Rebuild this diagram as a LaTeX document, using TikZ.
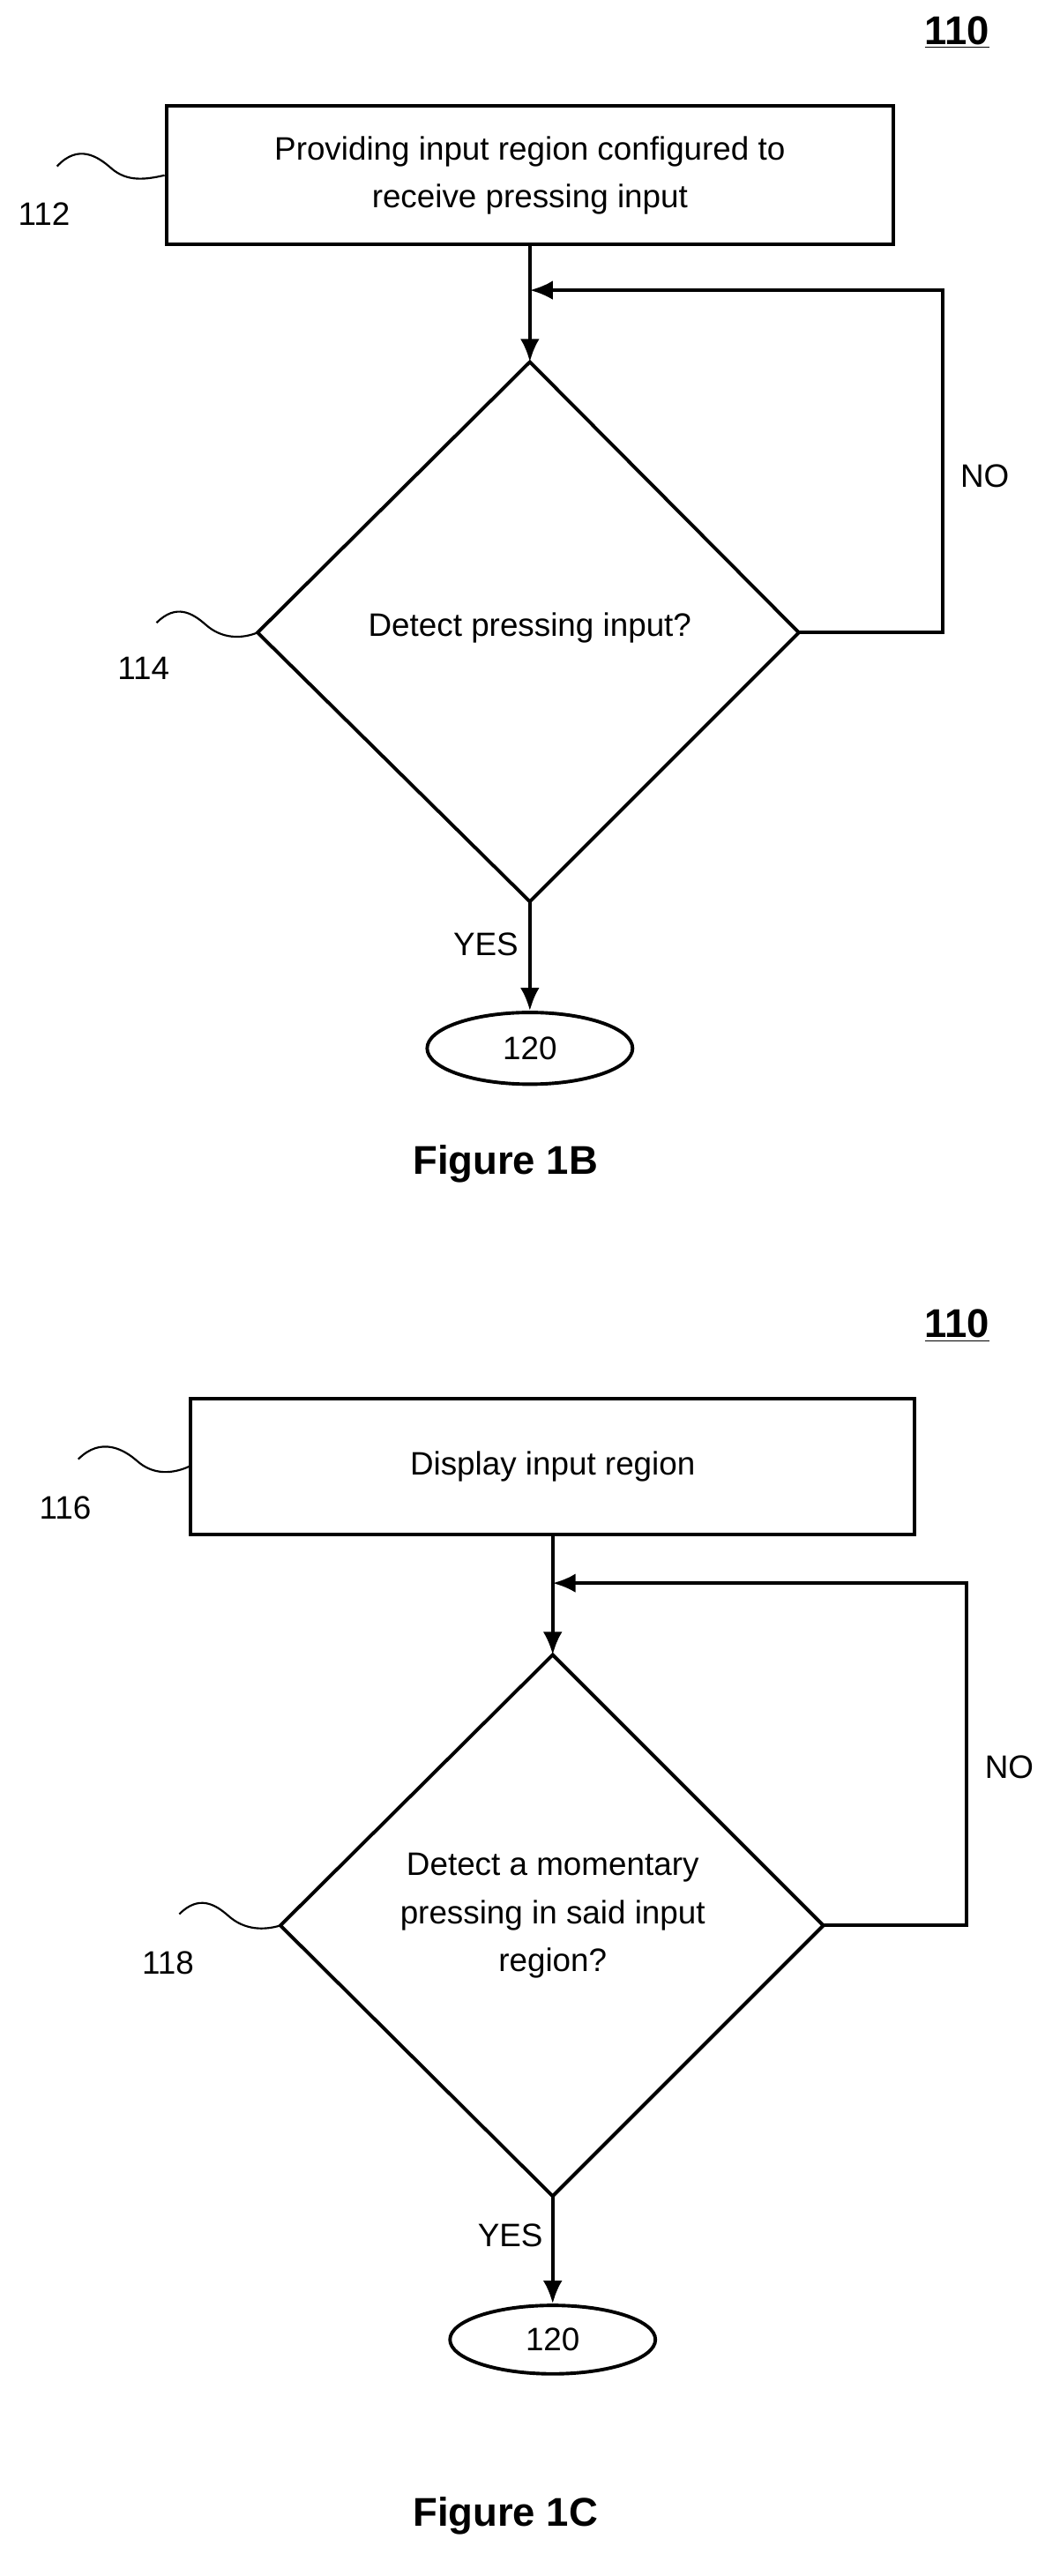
\documentclass[tikz,border=0pt]{standalone}
\usepackage{fontspec}
\setmainfont{Liberation Sans}
\usetikzlibrary{arrows.meta,shapes.geometric}
\begin{document}
\begin{tikzpicture}[x=0.03cm,y=-0.03cm,line width=1.8pt,
  txt/.style={font=\fontsize{17}{25}\selectfont,align=center,inner sep=0},
  lbl/.style={font=\fontsize{17}{20}\selectfont,inner sep=0},
  fig/.style={font=\bfseries\fontsize{21}{25}\selectfont,inner sep=0},
  arr/.style={-{Latex[length=12pt,width=10pt]}}]
\useasboundingbox (0,0) rectangle (650,1580);
% ---------- Figure 1B
\node[fig] (n110a) at (587,20) {\underline{110}};
\node[draw,minimum width=13.38cm,minimum height=2.55cm,txt] (b112) at (325,107.5) {Providing input region configured to\\receive pressing input};
\coordinate (dT) at (325,222); \coordinate (dL) at (158,388);
\coordinate (dR) at (490,388); \coordinate (dB) at (325,553);
\draw (dT)--(dR)--(dB)--(dL)--cycle;
\node[txt] (d114) at (325,385) {Detect pressing input?};
\coordinate (m1) at (325,178);
\draw[arr] (b112.south) -- (dT);
\draw[arr] (dR) -- (578,388) -- (578,178) -- (m1);
\node[lbl] (noa) at (604,292) {NO};
\node[draw,ellipse,minimum width=3.78cm,minimum height=1.32cm,txt] (e1) at (325,643) {120};
\draw[arr] (dB) -- (e1.north);
\node[lbl] (yesa) at (298,579) {YES};
\node[lbl] (l112) at (27,131) {112};
\draw[line width=1pt] (35,102) .. controls (48,88) and (60,96) .. (68,103) .. controls (78,112) and (90,110) .. (b112.west);
\node[lbl] (l114) at (88,410) {114};
\draw[line width=1pt] (96,382) .. controls (108,370) and (118,376) .. (126,383) .. controls (136,392) and (148,392) .. (dL);
\node[fig] (f1b) at (310,714) {Figure 1B};
% ---------- Figure 1C
\node[fig] (n110b) at (587,813) {\underline{110}};
\node[draw,minimum width=13.32cm,minimum height=2.49cm,txt] (b116) at (339,899.5) {Display input region};
\coordinate (cT) at (339,1015); \coordinate (cL) at (172,1181);
\coordinate (cR) at (505,1181); \coordinate (cB) at (339,1347);
\draw (cT)--(cR)--(cB)--(cL)--cycle;
\node[txt] (d118) at (339,1175) {Detect a momentary\\pressing in said input\\region?};
\coordinate (m2) at (339,971);
\draw[arr] (b116.south) -- (cT);
\draw[arr] (cR) -- (593,1181) -- (593,971) -- (m2);
\node[lbl] (nob) at (619,1084) {NO};
\node[draw,ellipse,minimum width=3.78cm,minimum height=1.26cm,txt] (e2) at (339,1435) {120};
\draw[arr] (cB) -- (e2.north);
\node[lbl] (yesb) at (313,1371) {YES};
\node[lbl] (l116) at (40,925) {116};
\draw[line width=1pt] (48,895) .. controls (62,881) and (76,889) .. (84,896) .. controls (94,905) and (106,904) .. (b116.west);
\node[lbl] (l118) at (103,1204) {118};
\draw[line width=1pt] (110,1174) .. controls (122,1162) and (132,1168) .. (140,1175) .. controls (150,1184) and (162,1184) .. (cL);
\node[fig] (f1c) at (310,1543) {Figure 1C};
\end{tikzpicture}
\end{document}
